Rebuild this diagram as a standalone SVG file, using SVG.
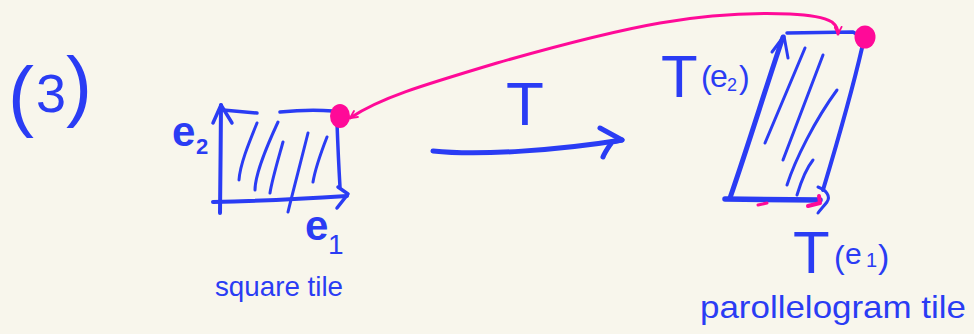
<svg xmlns="http://www.w3.org/2000/svg" width="974" height="334" viewBox="0 0 974 334">
<defs>
<style>
.ink{fill:none;stroke:#2a3cf4;stroke-linecap:round;stroke-linejoin:round}
.pk{fill:none;stroke:#ff0a98;stroke-linecap:round;stroke-linejoin:round}
.dot{fill:#ff0a98}
.t{fill:#2a3cf4;font-family:"Liberation Sans",Arial,sans-serif}
</style>
<marker id="pa" viewBox="0 0 10 10" refX="9" refY="5" markerWidth="9" markerHeight="9" markerUnits="userSpaceOnUse" orient="auto-start-reverse">
<path d="M1,1 L9,5 L1,9" fill="none" stroke="#ff0a98" stroke-width="2" stroke-linecap="round" stroke-linejoin="round"/>
</marker>
</defs>
<rect width="974" height="334" fill="#f8f6ec"/>

<g id="label-3">
<text class="t" font-size="78" y="122"><tspan x="8">(</tspan><tspan x="36" font-size="54" y="112">3</tspan><tspan x="66">)</tspan></text>
</g>

<g id="square-tile">
<path class="ink" stroke-width="4" d="M220,213 C220,180 221,140 221,105"/>
<path class="ink" stroke-width="3.5" d="M213,123 L221,105 L232,123"/>
<path class="ink" stroke-width="4" d="M213,202 C260,201 300,199 347,196"/>
<path class="ink" stroke-width="3.5" d="M338,187 L348,194 L337,208"/>
<path class="ink" stroke-width="3.5" d="M223,110 L257,113 M280,112 C300,110 320,110 333,111"/>
<path class="ink" stroke-width="3.5" d="M337,123 C338,150 339,170 340,187"/>
<path class="ink" stroke-width="3" d="M257,123 C248,145 240,165 239,180 M278,122 C265,150 255,175 255,190 M283,142 C278,160 272,180 270,193 M308,133 C300,165 292,195 288,212 M327,137 C320,155 315,170 313,182"/>
<ellipse class="dot" cx="340" cy="116" rx="10" ry="12"/>
<text class="t" font-size="42" font-weight="bold" x="172" y="146">e</text>
<text class="t" font-size="22" font-weight="bold" x="196" y="154">2</text>
<text class="t" font-size="42" font-weight="bold" x="305" y="240">e</text>
<text class="t" font-size="28" x="328" y="254">1</text>
<text class="t" font-size="28" x="215" y="296" textLength="128" lengthAdjust="spacingAndGlyphs">square tile</text>
</g>

<g id="parallelogram-tile">
<path class="ink" stroke-width="3" d="M805,48 L765,143 M823,55 L783,160 M837,90 C815,120 795,160 787,185 M813,160 C805,170 800,185 797,195"/>
<path class="ink" stroke-width="5.5" d="M725,199 L820,200"/>
<path class="ink" stroke-width="5" d="M730,198 C750,140 765,90 783,37"/>
<path class="ink" stroke-width="3" d="M772,52 L784,36 L788,58"/>
<path class="ink" stroke-width="3.5" d="M787,33 L853,32 L863,38"/>
<path class="ink" stroke-width="4" d="M862,48 C850,100 835,150 823,190"/>
<path class="ink" stroke-width="3" d="M818,187 C826,190 831,196 827,202 C824,206 820,210 818,213"/>
<path class="pk" stroke-width="3" d="M758,205 L767,203"/>
<path class="pk" stroke-width="4" d="M808,206 L820,203 L819,196"/>
<ellipse class="dot" cx="865" cy="37" rx="10.5" ry="11.5"/>
<text class="t" y="97"><tspan x="661" font-size="60">T</tspan><tspan x="701" y="88" font-size="32">(</tspan><tspan x="710" y="87" font-size="32">e</tspan><tspan x="727" y="91" font-size="18">2</tspan><tspan x="739" y="88" font-size="32">)</tspan></text>
<text class="t" y="273"><tspan x="793" font-size="60">T</tspan><tspan x="834" y="268" font-size="32">(</tspan><tspan x="845" y="264" font-size="30">e</tspan><tspan x="866" y="267" font-size="20">1</tspan><tspan x="878" y="268" font-size="34">)</tspan></text>
<text class="t" font-size="32" x="700" y="318" textLength="266" lengthAdjust="spacingAndGlyphs">parollelogram tile</text>
</g>

<g id="connectors">
<path class="pk" stroke-width="3" marker-start="url(#pa)" marker-end="url(#pa)" d="M350,118 C380,98 420,86 497,63 C560,45 620,30 660,23 C700,16 740,12 790,14 C815,15 825,18 832,22 C837,26 838,30 838,34"/>
<path class="ink" stroke-width="5" d="M433,151 C480,156 560,150 622,140"/>
<path class="ink" stroke-width="5" d="M600,128 L622,140 L612,142 C608,148 605,152 603,157"/>
<text class="t" font-size="62" x="506" y="125">T</text>
</g>
</svg>
